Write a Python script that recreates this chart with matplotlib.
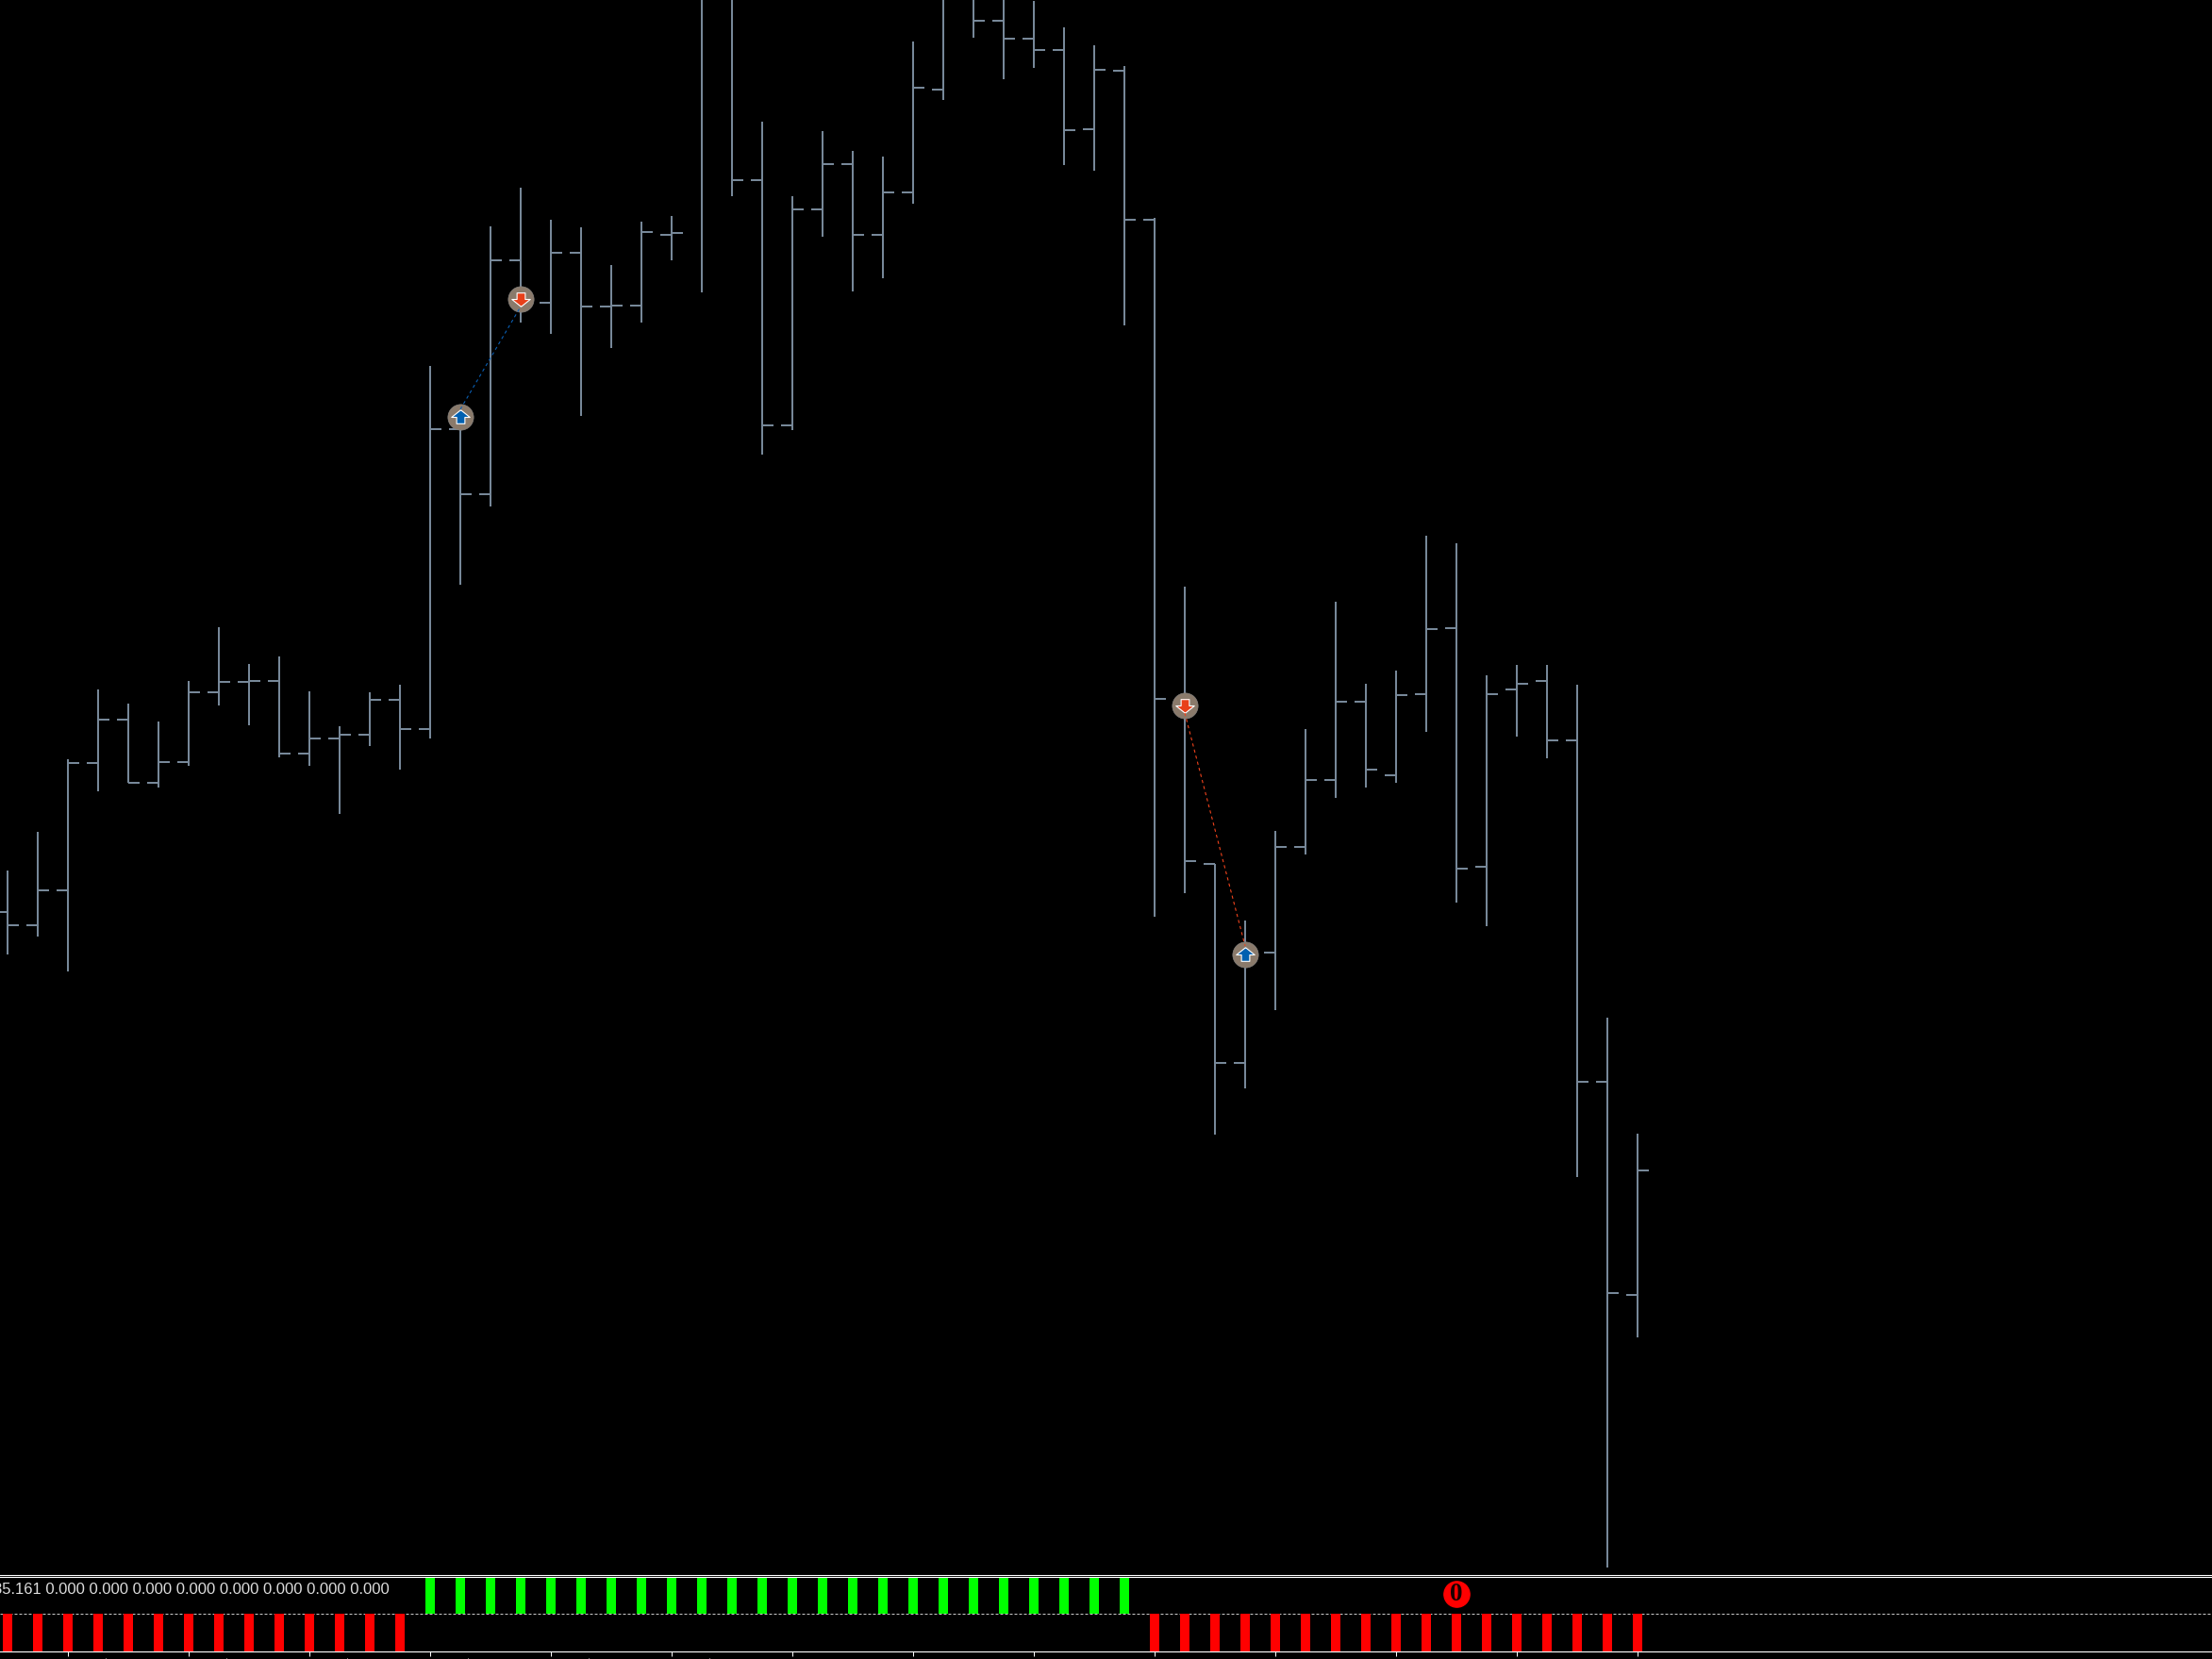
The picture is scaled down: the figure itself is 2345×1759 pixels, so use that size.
import matplotlib
matplotlib.use('Agg')
import matplotlib.pyplot as plt

# OHLC, in screen rows (the chart has no price scale)
# bars 23, 24, 31, 32, 33 run off the top, those values are guesses
opens = [967, 981, 944, 809, 763, 830, 808, 734, 723, 722, 799, 783, 779, 742, 773,
         455, 524, 276, 321, 268, 325, 324, 249, -30, -20, 191, 451, 222, 174, 249,
         204, 95, -20, 22, 41, 53, 137, 75, 233, 745, 916, 1127, 1010, 898, 827,
         744, 822, 736, 666, 919, 731, 722, 785, 1147, 1373]
highs = [923, 882, 805, 731, 746, 765, 722, 665, 704, 696, 733, 770, 734, 726, 388,
         435, 240, 199, 233, 241, 281, 235, 229, -40, -40, 129, 208, 139, 160, 166,
         44, -40, -40, -40, 1, 29, 48, 70, 231, 622, 916, 976, 881, 773, 638,
         725, 711, 568, 576, 716, 705, 705, 726, 1079, 1202]
lows = [1012, 993, 1030, 839, 830, 835, 812, 748, 769, 803, 812, 863, 791, 816, 783,
        620, 537, 342, 354, 441, 369, 342, 276, 310, 208, 482, 456, 251, 309, 295,
        216, 106, 40, 84, 72, 175, 181, 345, 972, 947, 1203, 1154, 1071, 906, 846,
        835, 830, 776, 957, 982, 781, 804, 1248, 1662, 1418]
closes = [981, 944, 809, 763, 830, 808, 734, 723, 722, 799, 783, 779, 742, 773, 455,
          524, 276, 321, 268, 325, 324, 246, 247, -20, 191, 451, 222, 174, 249, 204,
          93, -20, 22, 41, 53, 138, 74, 233, 741, 913, 1127, 1010, 898, 827, 744,
          816, 737, 667, 921, 736, 725, 785, 1147, 1371, 1241]

# indicator panel, +1 green / -1 red for each bar
signal = [-1] * 14 + [1] * 24 + [-1] * 17

# trades
buy_bars = [15, 41]
buy_rows = [442, 1012]
sell_bars = [17, 39]
sell_rows = [317, 748]
trade_blue_bars = [15, 17]
trade_blue_rows = [434, 325]
trade_red_bars = [39, 41]
trade_red_rows = [756, 1003]

readout = '85.161 0.000 0.000 0.000 0.000 0.000 0.000 0.000 0.000'
long_ticks = [2 + 4 * k for k in range(14)]
short_ticks = [3.25 + 4 * k for k in range(6)]

BAR = '#778899'
W, H = 2345, 1759
n = list(range(len(closes)))
xlim = (-8 / 32, (W - 8) / 32)

fig = plt.figure(figsize=(W / 100, H / 100), dpi=100, facecolor='black')

# price panel
ax = fig.add_axes([0, (H - 1669.5) / H, 1, 1669.5 / H], facecolor='black')
ax.set_xlim(xlim)
ax.set_ylim(1669.5, 0)
ax.vlines(n, highs, lows, color=BAR, lw=1.44, zorder=2)
ax.hlines(opens, [i - 0.375 for i in n], n, color=BAR, lw=1.44, zorder=2)
ax.hlines(closes, n, [i + 0.375 for i in n], color=BAR, lw=1.44, zorder=2)

ax.scatter(buy_bars + sell_bars, buy_rows + sell_rows, s=385, color='#8a7a6b',
           edgecolor='#86827f', linewidth=0.5, zorder=3)
ax.plot(trade_blue_bars, trade_blue_rows, color='#0a5fb4', lw=0.8, ls=(0, (3, 3)), zorder=5)
ax.plot(trade_red_bars, trade_red_rows, color='#f0431c', lw=0.8, ls=(0, (3, 3)), zorder=5)

up = [(0, 0.8), (1, 0), (0.45, 0), (0.45, -0.7), (-0.45, -0.7), (-0.45, 0), (-1, 0), (0, 0.8)]
down = [(x, -y) for x, y in up]
ax.plot(buy_bars, buy_rows, ls='', marker=up, ms=14,
        mfc='#0060b0', mec='white', mew=0.8, zorder=4)
ax.plot(sell_bars, sell_rows, ls='', marker=down, ms=14,
        mfc='#e8401a', mec='white', mew=0.8, zorder=4)

ax.set_xticks([])
ax.set_yticks([])
for s in ['top', 'left', 'right']:
    ax.spines[s].set_visible(False)
ax.spines['bottom'].set_color('white')
ax.spines['bottom'].set_linewidth(0.8)

# indicator panel
ax2 = fig.add_axes([0, (H - 1751) / H, 1, (1751 - 1671.5) / H], facecolor='black')
ax2.set_xlim(xlim)
ax2.set_ylim(-1, 1)
colors = ['#00ff00' if v > 0 else '#ff0000' for v in signal]
ax2.bar(n, signal, width=10 / 32, color=colors, zorder=2)
ax2.axhline(0, color='#c8c8c8', lw=0.72, ls=(0, (3, 2)), zorder=1)

ax2.text(413 / 32 - 0.25, 0.64, readout, color='#dcdcdc', fontsize=11.95, ha='right', va='center',
         family='Liberation Sans')
ax2.scatter([48], [0.53], s=385, color='#ff0000', zorder=3)
ax2.text(48, 0.53, '0', color='#1a0000', fontsize=19.5, fontweight='bold', ha='center',
         va='center', family='Liberation Serif', zorder=4)

ax2.set_yticks([])
ax2.set_xticks(long_ticks)
ax2.set_xticklabels([])
ax2.tick_params(axis='x', length=3.6, width=0.72, color='white', direction='out')
ax2.vlines(short_ticks, -1.18, -1.22, color='white', lw=0.72, clip_on=False)
for s in ['left', 'right']:
    ax2.spines[s].set_visible(False)
for s in ['top', 'bottom']:
    ax2.spines[s].set_color('white')
    ax2.spines[s].set_linewidth(0.8)

fig.savefig('out.png', dpi=100, facecolor='black')
